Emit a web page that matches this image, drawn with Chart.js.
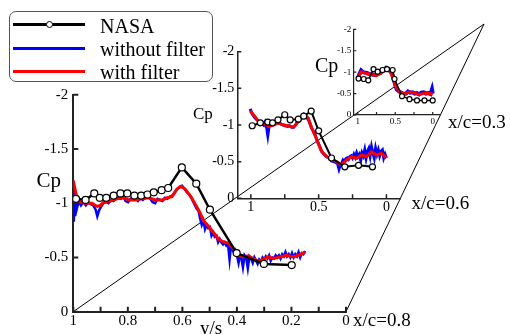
<!DOCTYPE html>
<html><head><meta charset="utf-8">
<script src="https://cdn.jsdelivr.net/npm/chart.js@4"></script>
<style>
html,body{margin:0;padding:0;background:#fff;}
#wrap{position:relative;width:510px;height:334px;overflow:hidden;font-family:"Liberation Serif","Times New Roman",serif;color:#000;}
canvas{position:absolute;left:0;top:0;}
.lbl{position:absolute;white-space:nowrap;line-height:1;}
#legend{position:absolute;left:9px;top:11px;width:204px;height:71px;border:1px solid #555;border-radius:7px;background:#fff;box-sizing:border-box;}
.sw{position:absolute;height:3px;}
.mk{position:absolute;width:5px;height:5px;border:1.3px solid #000;border-radius:50%;background:#fff;}
</style></head>
<body>
<div id="wrap">
<canvas id="c08" width="510" height="334"></canvas>
<canvas id="c06" width="510" height="334"></canvas>
<canvas id="c03" width="510" height="334"></canvas>
<div id="legend"></div>
<div class="sw" style="left:13px;top:23px;width:72px;background:#000;"></div>
<div class="mk" style="left:45.5px;top:21px;"></div>
<div class="sw" style="left:13px;top:47px;width:72px;background:#0000ff;"></div>
<div class="sw" style="left:13px;top:69.5px;width:72px;background:#ff0000;"></div>
<div class="lbl" style="left:100px;top:15.5px;font-size:20px;">NASA</div>
<div class="lbl" style="left:100px;top:38.5px;font-size:20px;">without filter</div>
<div class="lbl" style="left:100px;top:61.5px;font-size:20px;">with filter</div>
<div class="lbl" style="left:36.5px;top:169.5px;font-size:21px;">Cp</div>
<div class="lbl" style="left:193px;top:105px;font-size:17px;">Cp</div>
<div class="lbl" style="left:315px;top:55px;font-size:20px;">Cp</div>
<div class="lbl" style="left:200px;top:317.5px;font-size:19px;">y/s</div>
<div class="lbl" style="left:448px;top:112px;font-size:19px;">x/c=0.3</div>
<div class="lbl" style="left:411.5px;top:192.5px;font-size:19px;">x/c=0.6</div>
<div class="lbl" style="left:353px;top:310px;font-size:19px;">x/c=0.8</div>
</div>
<script>
// ---------- tick definitions ----------
const mainXTicks = [1, 0.9, 0.8, 0.7, 0.6, 0.5, 0.4, 0.3, 0.2, 0.1, 0];
const mainXLabels = ['1', '', '0.8', '', '0.6', '', '0.4', '', '0.2', '', '0'];
const cpTicks = [-2, -1.5, -1, -0.5, 0];
const cpLabels = ['-2', '-1.5', '-1', '-0.5', '0'];
const subXTicks = [1, 0.75, 0.5, 0.25, 0];
const subXLabels = ['1', '', '0.5', '', '0'];

// ---------- x/c = 0.8 ----------
const nasa08X = [0.99, 0.955, 0.923, 0.903, 0.879, 0.852, 0.827, 0.802, 0.776, 0.751, 0.728, 0.705, 0.676, 0.652, 0.602, 0.549, 0.499, 0.401, 0.301, 0.199];
const nasa08Cp = [-1.04, -1.03, -1.09, -1.05, -1.05, -1.07, -1.09, -1.09, -1.07, -1.07, -1.08, -1.10, -1.12, -1.14, -1.33, -1.18, -0.94, -0.54, -0.44, -0.43];
const red08X = [1.0, 0.993, 0.986, 0.974, 0.956, 0.931, 0.913, 0.901, 0.889, 0.864,
  0.840, 0.815, 0.797, 0.773, 0.748, 0.723, 0.699, 0.674, 0.656, 0.638,
  0.620, 0.605, 0.590, 0.578, 0.566, 0.548, 0.535, 0.523, 0.505, 0.486,
  0.468, 0.450, 0.431, 0.413, 0.395, 0.377, 0.358, 0.340, 0.321, 0.303,
  0.285, 0.266, 0.242, 0.217, 0.193, 0.175, 0.150];
const red08Cp = [-1.21, -1.12, -1.04, -1.01, -1.00, -1.00, -0.97, -0.98, -1.01, -1.02,
  -1.04, -1.05, -1.03, -1.03, -1.04, -1.05, -1.03, -1.03, -1.05, -1.06,
  -1.13, -1.155, -1.13, -1.09, -1.05, -0.97, -0.91, -0.84, -0.79, -0.73,
  -0.67, -0.645, -0.63, -0.58, -0.52, -0.505, -0.515, -0.49, -0.465, -0.485,
  -0.505, -0.49, -0.505, -0.52, -0.505, -0.52, -0.55];
const blue08X = [1.0, 0.998, 0.996, 0.993, 0.99, 0.986, 0.98, 0.972, 0.963, 0.954,
  0.945, 0.936, 0.927, 0.918, 0.912, 0.906, 0.898, 0.889, 0.88, 0.871,
  0.862, 0.853, 0.844, 0.835, 0.826, 0.817, 0.808, 0.799, 0.79, 0.781,
  0.772, 0.763, 0.754, 0.745, 0.736, 0.727, 0.718, 0.709, 0.70, 0.691,
  0.682, 0.673, 0.664, 0.655, 0.646, 0.637, 0.628, 0.619, 0.61, 0.601,
  0.592, 0.583, 0.574, 0.565, 0.556, 0.548, 0.541, 0.535, 0.529, 0.523,
  0.517, 0.511, 0.505, 0.499, 0.493, 0.487, 0.481, 0.475, 0.469, 0.463,
  0.457, 0.451, 0.445, 0.439, 0.433, 0.427, 0.422, 0.417, 0.412, 0.406,
  0.4, 0.394, 0.389, 0.384, 0.378, 0.372, 0.366, 0.36, 0.354, 0.348,
  0.342, 0.336, 0.33, 0.324, 0.318, 0.312, 0.306, 0.3, 0.294, 0.288,
  0.282, 0.276, 0.27, 0.264, 0.258, 0.252, 0.246, 0.24, 0.234, 0.228,
  0.222, 0.216, 0.21, 0.204, 0.198, 0.192, 0.186, 0.18, 0.174, 0.168,
  0.162, 0.156, 0.15];
const blue08Cp = [-1.18, -0.83, -1.10, -0.88, -1.06, -0.96, -1.02, -0.98, -1.01, -0.98,
  -1.01, -0.99, -0.98, -0.94, -0.88, -0.93, -0.97, -1.00, -1.01, -1.00,
  -1.03, -1.02, -1.04, -1.05, -1.04, -1.06, -1.02, -1.01, -1.04, -1.03,
  -1.04, -1.02, -1.05, -1.03, -1.05, -1.06, -1.04, -1.01, -1.00, -1.04,
  -1.03, -1.02, -1.05, -1.04, -1.06, -1.07, -1.10, -1.13, -1.15, -1.16,
  -1.13, -1.10, -1.08, -1.04, -0.99, -0.95, -0.93, -0.86, -0.80, -0.84,
  -0.76, -0.80, -0.77, -0.78, -0.70, -0.73, -0.69, -0.70, -0.64, -0.67,
  -0.64, -0.62, -0.64, -0.61, -0.63, -0.48, -0.60, -0.58, -0.55, -0.57,
  -0.52, -0.45, -0.52, -0.50, -0.41, -0.52, -0.50, -0.40, -0.51, -0.49,
  -0.45, -0.50, -0.47, -0.44, -0.48, -0.46, -0.50, -0.48, -0.51, -0.49,
  -0.52, -0.47, -0.50, -0.49, -0.52, -0.50, -0.52, -0.49, -0.53, -0.51,
  -0.55, -0.51, -0.53, -0.50, -0.54, -0.50, -0.53, -0.51, -0.55, -0.50,
  -0.54, -0.53, -0.56];

// ---------- x/c = 0.6 ----------
const nasa06X = [0.99, 0.93, 0.875, 0.84, 0.80, 0.75, 0.71, 0.65, 0.61, 0.555, 0.50, 0.405, 0.307, 0.206, 0.103];
const nasa06Cp = [-0.99, -1.03, -1.04, -1.03, -1.07, -1.14, -1.07, -1.08, -1.12, -1.19, -0.92, -0.55, -0.43, -0.45, -0.43];
const red06X = [1.005, 0.968, 0.932, 0.895, 0.870, 0.834, 0.797, 0.760, 0.724, 0.687,
  0.650, 0.601, 0.576, 0.551, 0.527, 0.503, 0.478, 0.441, 0.404, 0.368,
  0.331, 0.294, 0.257, 0.221, 0.184, 0.147, 0.110, 0.074, 0.037, 0.0];
const red06Cp = [-1.195, -1.11, -1.02, -1.02, -0.98, -1.0, -1.03, -1.0, -0.99, -0.97,
  -1.045, -1.136, -1.09, -0.955, -0.864, -0.75, -0.636, -0.568, -0.523, -0.50,
  -0.454, -0.523, -0.568, -0.546, -0.591, -0.568, -0.636, -0.591, -0.614, -0.546];
const blue06X = [1.005, 0.99, 0.97, 0.95, 0.935, 0.92, 0.905, 0.895, 0.885, 0.875,
  0.865, 0.85, 0.835, 0.82, 0.805, 0.79, 0.775, 0.76, 0.745, 0.73,
  0.715, 0.70, 0.685, 0.67, 0.655, 0.64, 0.625, 0.61, 0.60, 0.585,
  0.57, 0.555, 0.54, 0.525, 0.51, 0.495, 0.48, 0.465, 0.45, 0.435,
  0.42, 0.405, 0.39, 0.375, 0.36, 0.35, 0.34, 0.33, 0.32, 0.31,
  0.30, 0.29, 0.28, 0.27, 0.26, 0.25, 0.24, 0.23, 0.22, 0.21,
  0.20, 0.19, 0.18, 0.17, 0.16, 0.15, 0.14, 0.13, 0.12, 0.11,
  0.10, 0.09, 0.08, 0.07, 0.06, 0.05, 0.04, 0.03, 0.02, 0.01, 0.0];
const blue06Cp = [-1.22, -1.15, -1.10, -1.06, -1.01, -1.03, -1.00, -1.04, -0.98, -0.86,
  -0.99, -1.00, -1.01, -1.03, -1.04, -1.02, -1.01, -1.00, -0.99, -0.98,
  -0.99, -0.97, -0.97, -1.00, -1.05, -1.09, -1.12, -1.15, -1.14, -1.10,
  -1.05, -0.97, -0.92, -0.86, -0.78, -0.72, -0.65, -0.61, -0.58, -0.56,
  -0.55, -0.51, -0.50, -0.49, -0.47, -0.40, -0.46, -0.47, -0.52, -0.50,
  -0.54, -0.55, -0.53, -0.57, -0.58, -0.55, -0.60, -0.56, -0.62, -0.57,
  -0.60, -0.52, -0.62, -0.58, -0.66, -0.55, -0.64, -0.68, -0.58, -0.70,
  -0.62, -0.55, -0.68, -0.60, -0.66, -0.58, -0.64, -0.66, -0.55, -0.60, -0.55];

// ---------- x/c = 0.3 ----------
const nasa03X = [0.99, 0.92, 0.86, 0.79, 0.735, 0.67, 0.61, 0.535, 0.51, 0.41, 0.31, 0.21, 0.11, 0.0];
const nasa03Cp = [-0.85, -0.84, -0.81, -1.07, -1.01, -1.05, -1.07, -1.05, -0.84, -0.44, -0.37, -0.34, -0.34, -0.34];
const red03X = [1.0, 0.955, 0.888, 0.821, 0.755, 0.688, 0.621, 0.577, 0.533, 0.488, 0.444, 0.377, 0.311, 0.244, 0.177, 0.111, 0.044, 0.0];
const red03Cp = [-0.87, -1.01, -0.97, -0.95, -0.92, -0.98, -1.09, -1.04, -0.88, -0.64, -0.54, -0.49, -0.54, -0.51, -0.48, -0.51, -0.50, -0.49];
const blue03X = [1.0, 0.98, 0.955, 0.93, 0.90, 0.88, 0.85, 0.82, 0.79, 0.76,
  0.73, 0.70, 0.67, 0.64, 0.62, 0.60, 0.58, 0.55, 0.53, 0.50,
  0.48, 0.45, 0.42, 0.39, 0.36, 0.33, 0.30, 0.27, 0.24, 0.21,
  0.18, 0.15, 0.12, 0.09, 0.06, 0.03, 0.01, 0.0];
const blue03Cp = [-0.86, -0.95, -1.04, -1.00, -0.99, -0.98, -0.96, -0.95, -0.94, -0.93,
  -0.96, -0.98, -1.02, -1.06, -1.10, -1.08, -1.06, -0.98, -0.90, -0.70,
  -0.60, -0.55, -0.52, -0.49, -0.50, -0.55, -0.52, -0.53, -0.50, -0.51,
  -0.48, -0.52, -0.53, -0.50, -0.51, -0.49, -0.60, -0.50];

// ---------- helpers ----------
const FONT = "'Liberation Serif', 'Times New Roman', serif";
function zip(xs, ys) { const n = Math.min(xs.length, ys.length); const out = []; for (let i = 0; i < n; i++) out.push({x: xs[i], y: ys[i]}); return out; }
function labelFor(ticks, labels) { return v => { const i = ticks.findIndex(t => Math.abs(t - v) < 1e-6); return i >= 0 ? labels[i] : ''; }; }

const inwardTicks = {
  id: 'inwardTicks',
  afterDraw(chart, args, o) {
    const {ctx, chartArea: a, scales: {x, y}} = chart;
    ctx.save();
    ctx.strokeStyle = o.color; ctx.lineWidth = o.width;
    ctx.beginPath();
    x.ticks.forEach(t => { const p = x.getPixelForValue(t.value); ctx.moveTo(p, a.bottom); ctx.lineTo(p, a.bottom - o.len); });
    y.ticks.forEach(t => { const p = y.getPixelForValue(t.value); ctx.moveTo(a.left, p); ctx.lineTo(a.left + o.len, p); });
    ctx.stroke();
    ctx.restore();
  }
};
const frame = {
  id: 'frame',
  beforeDatasetsDraw(chart, args, o) {
    if (!o.apex) return;
    const {ctx, scales: {x, y}} = chart;
    const ox = x.getPixelForValue(1), oy = y.getPixelForValue(0), ex = x.getPixelForValue(0);
    ctx.save();
    ctx.strokeStyle = '#000'; ctx.lineWidth = 1;
    ctx.beginPath();
    ctx.moveTo(ox, oy); ctx.lineTo(o.apex[0], o.apex[1]); ctx.lineTo(ex, oy);
    ctx.stroke();
    ctx.restore();
  }
};

function makeChart(id, cfg) {
  return new Chart(document.getElementById(id), {
    type: 'line',
    data: { datasets: [
      { label: 'NASA', data: zip(cfg.nx, cfg.ny), borderColor: '#000', borderWidth: cfg.bw, pointRadius: cfg.pr,
        pointBackgroundColor: '#fff', pointBorderColor: '#000', pointBorderWidth: 1.2, tension: 0 },
      { label: 'with filter', data: zip(cfg.rx, cfg.ry), borderColor: '#ff0000', borderWidth: cfg.rw, pointRadius: 0, tension: 0 },
      { label: 'without filter', data: zip(cfg.ux, cfg.uy), borderColor: '#0000ff', borderWidth: cfg.uw, pointRadius: 0, tension: 0 }
    ]},
    options: {
      responsive: false, animation: false, devicePixelRatio: 1,
      layout: { padding: cfg.pad },
      plugins: { legend: { display: false }, tooltip: { enabled: false },
        inwardTicks: { len: cfg.tl, color: '#222', width: cfg.aw }, frame: { apex: cfg.apex } },
      scales: {
        x: { type: 'linear', min: cfg.xmin, max: cfg.xmax, reverse: true,
          afterBuildTicks: s => { s.ticks = cfg.xt.map(v => ({value: v})); },
          afterFit: s => { s.height = cfg.xh; },
          grid: { display: false, drawTicks: false },
          border: { display: true, color: '#222', width: cfg.aw },
          ticks: { autoSkip: false, maxRotation: 0, padding: cfg.xp, color: '#000',
            font: { family: FONT, size: cfg.fs }, callback: labelFor(cfg.xt, cfg.xl) } },
        y: { type: 'linear', min: -2, max: 0, reverse: true,
          afterBuildTicks: s => { s.ticks = cpTicks.map(v => ({value: v})); },
          afterFit: s => { s.width = cfg.yw; },
          grid: { display: false, drawTicks: false },
          border: { display: true, color: '#222', width: cfg.aw },
          ticks: { autoSkip: false, padding: cfg.yp, color: '#000',
            font: { family: FONT, size: cfg.fs }, callback: labelFor(cpTicks, cpLabels) } }
      }
    },
    plugins: [inwardTicks, frame]
  });
}

makeChart('c08', { nx: nasa08X, ny: nasa08Cp, rx: red08X, ry: red08Cp, ux: blue08X, uy: blue08Cp,
  bw: 2.5, pr: 3.5, rw: 3, uw: 2.5, xmin: 0, xmax: 1, xt: mainXTicks, xl: mainXLabels,
  pad: { left: 33.3, right: 164, top: 94.7, bottom: 0.3 }, xh: 22, yw: 40, tl: 5, aw: 2,
  fs: 15, xp: 0, yp: 5, apex: [484, 24] });
makeChart('c06', { nx: nasa06X, ny: nasa06Cp, rx: red06X, ry: red06Cp, ux: blue06X, uy: blue06Cp,
  bw: 2, pr: 3, rw: 3, uw: 3, xmin: -0.1, xmax: 1.1, xt: subXTicks, xl: subXLabels,
  pad: { left: 197.3, right: 110, top: 51.7, bottom: 115.7 }, xh: 20, yw: 40, tl: 4, aw: 1.5,
  fs: 14, xp: 1, yp: 3, apex: null });
makeChart('c03', { nx: nasa03X, ny: nasa03Cp, rx: red03X, ry: red03Cp, ux: blue03X, uy: blue03Cp,
  bw: 1.5, pr: 2.5, rw: 3, uw: 4, xmin: -0.1, xmax: 1.06, xt: subXTicks, xl: subXLabels,
  pad: { left: 327.3, right: 69.8, top: 29.3, bottom: 205 }, xh: 14, yw: 26, tl: 3, aw: 1.2,
  fs: 9, xp: 1.5, yp: 2, apex: null });
</script>
</body></html>
